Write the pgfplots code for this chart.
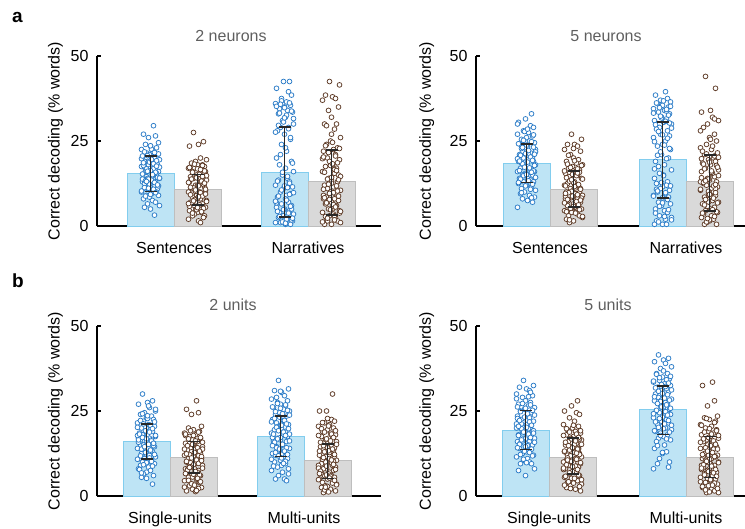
\documentclass[border=0pt]{standalone}
\usepackage{fontspec}
\setmainfont{Liberation Sans}
\usepackage{pgfplots}
\pgfplotsset{compat=1.18}
\definecolor{barblue}{RGB}{190,228,245}
\definecolor{edgeblue}{RGB}{130,205,238}
\definecolor{bargray}{RGB}{217,217,217}
\definecolor{edgegray}{RGB}{190,190,190}
\definecolor{mblue}{RGB}{45,125,200}
\definecolor{mbrown}{RGB}{95,60,40}
\definecolor{errc}{RGB}{40,40,40}
\definecolor{titlec}{RGB}{95,95,95}
\pgfplotsset{
  panel/.style={
    scale only axis, height=170pt, anchor=south west,
    ymin=0, ymax=50, ytick={0,25,50},
    axis x line*=bottom, axis y line*=left,
    axis line style={line width=1.2pt, black},
    tick align=inside, major tick length=4pt,
    ytick style={line width=1.2pt, black},
    xtick style={draw=none},
    tick label style={font=\fontsize{16}{19}\selectfont},
    /pgf/number format/assume math mode=true,
    yticklabel style={xshift=-5pt},
    xticklabel style={anchor=base, yshift=-27pt},
    ylabel={Correct decoding (\% words)},
    clip=false,
  },
  ovl/.style={scale only axis, height=170pt, anchor=south west, ymin=0, ymax=50, hide axis, clip=false},
  ylab/.style={every axis y label/.style={at={(axis description cs:#1,0.5)}, rotate=90, anchor=center, font=\fontsize{16}{19}\selectfont}},
  bluebar/.style={ybar, bar width=47, bar shift=0pt, fill=barblue, draw=edgeblue, line width=1pt},
  graybar/.style={ybar, bar width=47, bar shift=0pt, fill=bargray, draw=edgegray, line width=1pt},
  bluept/.style={only marks, mark=*, mark size=2.4pt, mark options={draw=mblue, fill=white, line width=0.75pt}},
  brownpt/.style={only marks, mark=*, mark size=2.4pt, mark options={draw=mbrown, fill=white, line width=0.75pt}},
  errs/.style={draw=errc, line width=1.6pt, mark=none, unbounded coords=jump, forget plot},
}
\begin{document}
\begin{tikzpicture}
\path[use as bounding box] (0,0) rectangle (745pt,-528pt);
\node[anchor=base west, inner sep=0, font=\fontsize{19}{22}\selectfont\bfseries] at (12pt,-22pt) {a};
\node[anchor=base west, inner sep=0, font=\fontsize{19}{22}\selectfont\bfseries] at (12pt,-287pt) {b};
\node[anchor=base, inner sep=0, titlec, font=\fontsize{16}{19}\selectfont] at (231pt,-41.5pt) {2 neurons};
\node[anchor=base, inner sep=0, titlec, font=\fontsize{16}{19}\selectfont] at (606pt,-41.5pt) {5 neurons};
\node[anchor=base, inner sep=0, titlec, font=\fontsize{16}{19}\selectfont] at (233pt,-310pt) {2 units};
\node[anchor=base, inner sep=0, titlec, font=\fontsize{16}{19}\selectfont] at (608pt,-310pt) {5 units};

% ---------------- a, 2 neurons
\begin{axis}[panel, at={(97pt,-226pt)}, width=284pt, xmin=-77, xmax=207,
  xtick={0,134}, xticklabels={Sentences,Narratives}, ylab=-0.146]
\addplot[bluebar] coordinates {(-23.5,15.4) (110.5,15.6)};
\addplot[graybar] coordinates {(23.5,10.6) (157.5,13.0)};
\addplot[bluept] table[x expr=\thisrow{j}-23.5, y=y, row sep=\\] {j y\\
3 29.5\\ -7 27\\ 5 26.5\\ -2 26\\ 8 24.5\\ -5 24\\ 0 23.5\\ 6 23\\ -9 22.5\\ 2 22\\
-4 21.5\\ 7 21\\ -1 21\\ 4 20.5\\ -8 20\\ 1 20\\ 9 19.5\\ -3 19\\ -6 19\\ 5 18.5\\
-2 18\\ 7 18\\ -9 17.5\\ 3 17\\ 0 17\\ -5 16.5\\ 8 16\\ -1 16\\ 6 15.5\\ -7 15\\
2 15\\ -4 14.5\\ 9 14\\ -3 14\\ 1 13.5\\ -8 13\\ 5 13\\ -6 12.5\\ 4 12\\ 0 12\\
-2 11.5\\ 7 11\\ -5 11\\ 3 10.5\\ -9 10\\ 6 10\\ 1 9.5\\ -4 9\\ 8 9\\ -1 8.5\\
-7 8\\ 2 7.5\\ 5 7\\ -3 6.5\\ 9 6\\ -6 5.5\\ 0 5\\ 4 3.2\\ -8 13.8\\ 3 16.8\\
1 22.6\\ -6 21.8\\ 8 21.2\\ -3 20.7\\ 4 20.2\\ -9 19.8\\ 6 19.2\\ -1 18.8\\ 3 18.3\\ -7 17.8\\
9 17.3\\ -4 16.8\\ 0 16.3\\ 5 15.8\\ -8 15.3\\ 2 14.8\\ 7 14.3\\ -2 13.8\\ -5 13.3\\ 4 12.8\\
-1 12.3\\ 8 11.8\\ -6 11.3\\ 3 10.8\\ -9 10.3\\ 5 9.8\\ 0 9.3\\ -3 16.1\\ 6 17.6\\ -7 18.6\\
2 15.1\\ 9 14.1\\ -4 13.1\\ 1 19.6\\ -8 20.6\\ 7 12.1\\ -2 11.1\\ 4 21.6\\ -5 8.8\\ 0 23.6\\
};
\addplot[brownpt] table[x expr=\thisrow{j}+23.5, y=y, row sep=\\] {j y\\
-4 27.5\\ 6 24.8\\ 1 24\\ -8 23.5\\ 3 20\\ 9 19.5\\ -2 19\\ -6 18.5\\ 5 18\\ 0 18\\
7 17.5\\ -3 17\\ -9 17\\ 2 16.5\\ 8 16\\ -5 16\\ 4 15.5\\ -1 15\\ 6 15\\ -7 14.5\\
1 14\\ -4 14\\ 9 13.5\\ -8 13\\ 3 13\\ 5 12.5\\ -2 12\\ 0 12\\ 7 11.5\\ -6 11\\
-3 11\\ 8 10.5\\ 2 10\\ -9 10\\ 4 9.5\\ -1 9\\ 6 9\\ -5 8.5\\ 0 8\\ 3 8\\
9 7.5\\ -7 7\\ -2 7\\ 5 6.5\\ 1 6\\ -4 6\\ 8 5.5\\ -6 5\\ 2 5\\ -8 4.5\\
4 4\\ 0 4\\ -3 3.5\\ 7 3\\ -5 3\\ 6 2.5\\ -9 2\\ 1 1.5\\ 3 1\\ -1 10.2\\
-3 18.2\\ 5 17.8\\ -8 17.2\\ 0 16.8\\ 7 16.2\\ -5 15.8\\ 2 15.2\\ 9 14.8\\ -1 14.2\\ -6 13.8\\
4 13.2\\ -9 12.8\\ 6 12.2\\ 1 11.8\\ -4 11.2\\ 8 10.8\\ -2 10.2\\ 3 9.8\\ -7 9.2\\ 5 8.8\\
0 8.2\\ -3 7.8\\ 9 7.2\\ -6 6.8\\ 2 6.2\\ -8 5.8\\ 6 5.2\\ -1 4.8\\ 4 4.2\\ -5 3.8\\
7 12.6\\ -2 10.6\\ 1 8.6\\ -9 6.6\\ 5 14.6\\ 3 16.6\\ -7 11.4\\ 8 9.4\\ -4 7.4\\ 0 5.4\\
};
\addplot[bluept] table[x expr=\thisrow{j}+110.5, y=y, row sep=\\] {j y\\
5 42.5\\ -1 42.5\\ -8 40.5\\ 4 39.5\\ 7 38.5\\ -3 37.5\\ 2 36.5\\ -9 36\\ 6 35.5\\ 0 35\\
-5 34.5\\ 3 34\\ 8 33.5\\ -6 33\\ 1 32\\ -2 31\\ 9 30\\ -4 29\\ 4 29\\ -7 28\\
0 27\\ 6 25.5\\ -3 24\\ 2 22\\ -8 20\\ 7 19\\ -5 18\\ 1 17\\ 9 16\\ -2 15\\
3 14\\ -6 13.5\\ 5 13\\ -9 12\\ 8 11.5\\ -1 11\\ -4 10\\ 6 9.5\\ 2 9\\ -7 8.5\\
1 8\\ 4 7\\ -3 6.5\\ 7 6\\ -8 5.5\\ 0 5\\ 5 4.5\\ -5 4\\ 9 3.5\\ -2 3\\
-6 2.5\\ 3 2\\ 8 1.5\\ -4 1\\ 1 0.5\\ 6 0.5\\ -9 1\\ 2 2\\ -1 3\\ 7 5\\
-3 36.8\\ 5 36.2\\ -8 35.2\\ 0 34.8\\ 7 33.8\\ -5 33.2\\ 2 32.6\\ 9 31.6\\ -1 30.6\\ -6 29.6\\
4 28.6\\ -9 27.6\\ 6 26\\ 1 23\\ -4 21\\ 8 18.5\\ -2 15.8\\ 3 14.6\\ -7 13.2\\ 5 12.6\\
0 11.8\\ -3 10.6\\ 9 9.8\\ -6 8.8\\ 2 7.6\\ -8 6.8\\ 6 5.8\\ -1 4.8\\ 4 3.8\\ -5 2.8\\
7 1.8\\ -2 1.2\\ 1 0.8\\ -9 7.3\\ 5 9.3\\ 3 11.3\\ -7 4.3\\ 8 2.3\\ -4 35.8\\ 0 31.8\\
};
\addplot[brownpt] table[x expr=\thisrow{j}+157.5, y=y, row sep=\\] {j y\\
-2 42.5\\ 8 41.5\\ -6 38.5\\ 1 38\\ 4 37.5\\ -9 37\\ 7 35\\ -3 34\\ 0 32\\ 5 30\\
-7 30\\ 3 28.5\\ 9 26\\ -1 25\\ -5 24\\ 6 23\\ 2 22.5\\ -8 22\\ 4 21\\ -4 20\\
8 19.5\\ -2 19\\ 1 18\\ -6 17.5\\ 5 17\\ -9 16\\ 3 15.5\\ 7 15\\ -3 14\\ 0 13.5\\
6 13\\ -7 12\\ 2 11.5\\ -4 11\\ 9 10.5\\ -1 10\\ 4 9.5\\ -8 9\\ -5 8.5\\ 3 8\\
7 7.5\\ 0 7\\ -6 6.5\\ 5 6\\ 1 5.5\\ -3 5\\ 8 4.5\\ -9 4\\ 2 3.5\\ -2 3\\
4 2.5\\ -5 2\\ 6 1.5\\ 9 1\\ -7 0.5\\ 0 0.5\\ -4 1.5\\ 3 3\\ 1 5\\ -8 8\\
1 24.6\\ -6 23.6\\ 8 22.8\\ -3 21.6\\ 4 20.6\\ -9 19.8\\ 6 18.6\\ -1 17.8\\ 3 16.6\\ -7 15.8\\
9 14.6\\ -4 13.8\\ 0 12.6\\ 5 11.8\\ -8 10.8\\ 2 9.8\\ 7 8.8\\ -2 7.8\\ -5 6.8\\ 4 5.8\\
-1 4.8\\ 8 3.8\\ -6 2.8\\ 3 1.8\\ -9 1.2\\ 5 16.3\\ 0 14.3\\ -3 12.3\\ 6 10.3\\ -7 8.3\\
2 6.3\\ 9 4.3\\ -4 2.3\\ 1 18.3\\ -8 20.3\\ 7 13.6\\ -2 9.6\\ 4 5.6\\ -5 29.5\\ 0 27\\
};
\end{axis}
\begin{axis}[ovl, at={(97pt,-226pt)}, width=284pt, xmin=-77, xmax=207]
\addplot[errs] table[row sep=\\] {x y\\
-29.5 20.6\\ -17.5 20.6\\ nan nan\\ -23.5 20.6\\ -23.5 10.1\\ nan nan\\ -29.5 10.1\\ -17.5 10.1\\ nan nan\\
17.5 15.2\\ 29.5 15.2\\ nan nan\\ 23.5 15.2\\ 23.5 6.2\\ nan nan\\ 17.5 6.2\\ 29.5 6.2\\ nan nan\\
104.5 29.1\\ 116.5 29.1\\ nan nan\\ 110.5 29.1\\ 110.5 2.6\\ nan nan\\ 104.5 2.6\\ 116.5 2.6\\ nan nan\\
151.5 22.4\\ 163.5 22.4\\ nan nan\\ 157.5 22.4\\ 157.5 3.2\\ nan nan\\ 151.5 3.2\\ 163.5 3.2\\
};
\end{axis}

% ---------------- a, 5 neurons
\begin{axis}[panel, at={(476pt,-226pt)}, width=269pt, xmin=-74, xmax=195,
  xtick={0,136}, xticklabels={Sentences,Narratives}, ylab=-0.183]
\addplot[bluebar] coordinates {(-23.5,18.3) (112.5,19.5)};
\addplot[graybar] coordinates {(23.5,10.7) (159.5,13.0)};
\addplot[bluept] table[x expr=\thisrow{j}-23.5, y=y, row sep=\\] {j y\\
5 33\\ -1 31.5\\ -8 30.5\\ 4 29.5\\ 7 29\\ -3 28\\ 2 27.5\\ -9 27\\ 6 26.5\\ 0 26\\
-5 25.5\\ 3 25\\ 8 24.5\\ -6 24\\ 1 23.5\\ -2 23\\ 9 22.5\\ -4 22\\ 4 21.5\\ -7 21\\
0 20.5\\ 6 20\\ -3 20\\ 2 19.5\\ -8 19\\ 7 19\\ -5 18.5\\ 1 18\\ 9 18\\ -2 17.5\\
3 17\\ -6 17\\ 5 16.5\\ -9 16\\ 8 16\\ -1 15.5\\ -4 15\\ 6 15\\ 2 14.5\\ -7 14\\
1 14\\ 4 13.5\\ -3 13\\ 7 13\\ -8 12.5\\ 0 12\\ 5 11.5\\ -5 11\\ 9 10.5\\ -2 10\\
-6 9.5\\ 3 9\\ 8 8.5\\ -4 8\\ 1 7.5\\ 6 7\\ -9 5.5\\ 2 21.2\\ -1 18.8\\ 7 16.2\\
-3 25.2\\ 5 24.8\\ -8 24.2\\ 0 23.8\\ 7 23.2\\ -5 22.8\\ 2 22.2\\ 9 21.8\\ -1 21.3\\ -6 20.8\\
4 20.3\\ -9 19.8\\ 6 19.3\\ 1 18.8\\ -4 18.3\\ 8 17.8\\ -2 17.3\\ 3 16.8\\ -7 16.3\\ 5 15.8\\
0 15.3\\ -3 14.8\\ 9 14.3\\ -6 13.8\\ 2 13.3\\ -8 12.8\\ 6 12.3\\ -1 11.8\\ 4 10.8\\ -5 9.8\\
7 26.8\\ -2 27.8\\ 1 28.5\\ -9 30\\ 5 8.3\\ 3 17.1\\ -7 19.1\\ 8 21.1\\ -4 23.1\\ 0 15.1\\
};
\addplot[brownpt] table[x expr=\thisrow{j}+23.5, y=y, row sep=\\] {j y\\
-2 27\\ 8 25.5\\ -6 24\\ 1 24\\ 4 23.5\\ -9 22.5\\ 7 22\\ -3 21\\ 0 20\\ 5 19.5\\
-7 19\\ 3 18.5\\ 9 18\\ -1 17.5\\ -5 17\\ 6 16.5\\ 2 16\\ -8 15.5\\ 4 15\\ -4 14.5\\
8 14\\ -2 13.5\\ 1 13\\ -6 12.5\\ 5 12\\ -9 12\\ 3 11.5\\ 7 11\\ -3 11\\ 0 10.5\\
6 10\\ -7 10\\ 2 9.5\\ -4 9\\ 9 9\\ -1 8.5\\ 4 8\\ -8 8\\ -5 7.5\\ 3 7\\
7 7\\ 0 6.5\\ -6 6\\ 5 6\\ 1 5.5\\ -3 5\\ 8 5\\ -9 4.5\\ 2 4\\ -2 4\\
4 3.5\\ -5 3\\ 6 3\\ 9 2.5\\ -7 2\\ 0 1.5\\ -4 1\\ 3 10.8\\ 1 12.3\\ -8 8.8\\
1 19.2\\ -6 18.2\\ 8 17.8\\ -3 17.2\\ 4 16.8\\ -9 16.2\\ 6 15.8\\ -1 15.2\\ 3 14.8\\ -7 14.2\\
9 13.8\\ -4 13.2\\ 0 12.8\\ 5 12.2\\ -8 11.8\\ 2 11.2\\ 7 10.8\\ -2 10.2\\ -5 9.8\\ 4 9.2\\
-1 8.8\\ 8 8.2\\ -6 7.8\\ 3 7.2\\ -9 6.8\\ 5 6.2\\ 0 5.8\\ -3 5.2\\ 6 4.8\\ -7 4.2\\
2 3.8\\ 9 2.8\\ -4 1.8\\ 1 11.6\\ -8 9.6\\ 7 7.6\\ -2 13.6\\ 4 15.6\\ -5 20.8\\ 0 22.8\\
};
\addplot[bluept] table[x expr=\thisrow{j}+112.5, y=y, row sep=\\] {j y\\
3 39.5\\ -7 38.5\\ 5 37.5\\ -2 37\\ 8 36.5\\ -5 36\\ 0 35.5\\ 6 35\\ -9 34.5\\ 2 34\\
-4 33.5\\ 7 33\\ -1 32\\ 4 31.5\\ -8 31\\ 1 30.5\\ 9 30\\ -3 29\\ -6 28.5\\ 5 28\\
-2 27\\ 7 26.5\\ -9 26\\ 3 25\\ 0 24\\ -5 23.5\\ 8 22.5\\ -1 21\\ 6 20\\ -7 19\\
2 18\\ -4 17.5\\ 9 16.5\\ -3 15.5\\ 1 15\\ -8 14\\ 5 13\\ -6 12.5\\ 4 12\\ 0 11.5\\
-2 11\\ 7 10.5\\ -5 10\\ 3 9.5\\ -9 9\\ 6 8.5\\ 1 8\\ -4 7\\ 8 6.5\\ -1 6\\
-7 5\\ 2 4.5\\ 5 4\\ -3 3\\ 9 2.5\\ -6 1.5\\ 0 0.5\\ 4 0.5\\ -8 0.5\\ 3 2\\
1 36.8\\ -6 36.2\\ 8 35.2\\ -3 34.8\\ 4 33.8\\ -9 33.2\\ 6 32.6\\ -1 31.8\\ 3 30.8\\ -7 29.8\\
9 28.8\\ -4 27.8\\ 0 26.8\\ 5 25.8\\ -8 24.8\\ 2 23.8\\ 7 22.8\\ -2 21.8\\ -5 20.8\\ 4 19.8\\
-1 12.8\\ 8 11.8\\ -6 10.8\\ 3 9.8\\ -9 8.8\\ 5 7.8\\ 0 6.8\\ -3 5.8\\ 6 4.8\\ -7 3.8\\
2 2.8\\ 9 1.8\\ -4 1.2\\ 1 14.8\\ -8 16.8\\ 7 30.3\\ -2 32.3\\ 4 34.3\\ -5 10.3\\ 0 8.3\\
};
\addplot[brownpt] table[x expr=\thisrow{j}+159.5, y=y, row sep=\\] {j y\\
-4 44\\ 6 40.5\\ 1 34\\ -8 33.5\\ 3 32\\ 9 31\\ -2 30\\ -6 29\\ 5 27\\ 0 26\\
7 25\\ -3 24\\ -9 23\\ 2 22.5\\ 8 21.5\\ -5 21\\ 4 20\\ -1 19.5\\ 6 19\\ -7 18.5\\
1 18\\ -4 17\\ 9 16.5\\ -8 16\\ 3 15\\ 5 14.5\\ -2 14\\ 0 13.5\\ 7 13\\ -6 12.5\\
-3 12\\ 8 11.5\\ 2 11\\ -9 10.5\\ 4 10\\ -1 9.5\\ 6 9\\ -5 8.5\\ 0 8\\ 3 7.5\\
9 7\\ -7 6.5\\ -2 6\\ 5 5.5\\ 1 5\\ -4 4.5\\ 8 4\\ -6 3.5\\ 2 3\\ -8 2.5\\
4 2\\ 0 1.5\\ -3 1\\ 7 0.5\\ -5 0.5\\ 6 11\\ -9 13\\ 1 9\\ 3 15.5\\ -1 7\\
-3 21.2\\ 5 20.6\\ -8 19.8\\ 0 18.8\\ 7 17.8\\ -5 16.8\\ 2 15.8\\ 9 14.8\\ -1 13.8\\ -6 12.8\\
4 11.8\\ -9 10.8\\ 6 9.8\\ 1 8.8\\ -4 7.8\\ 8 6.8\\ -2 5.8\\ 3 4.8\\ -7 3.8\\ 5 2.8\\
0 1.8\\ -3 1.2\\ 9 20.2\\ -6 18.2\\ 2 16.2\\ -8 14.2\\ 6 12.2\\ -1 10.2\\ 4 8.2\\ -5 6.2\\
7 4.2\\ -2 2.2\\ 1 25.5\\ -9 28\\ 5 31.5\\ 3 23.5\\ -7 22\\ 8 17.3\\ -4 13.3\\ 0 9.3\\
};
\end{axis}
\begin{axis}[ovl, at={(476pt,-226pt)}, width=269pt, xmin=-74, xmax=195]
\addplot[errs] table[row sep=\\] {x y\\
-29.5 24.1\\ -17.5 24.1\\ nan nan\\ -23.5 24.1\\ -23.5 12.8\\ nan nan\\ -29.5 12.8\\ -17.5 12.8\\ nan nan\\
17.5 16.2\\ 29.5 16.2\\ nan nan\\ 23.5 16.2\\ 23.5 5.6\\ nan nan\\ 17.5 5.6\\ 29.5 5.6\\ nan nan\\
106.5 30.6\\ 118.5 30.6\\ nan nan\\ 112.5 30.6\\ 112.5 8.3\\ nan nan\\ 106.5 8.3\\ 118.5 8.3\\ nan nan\\
153.5 20.8\\ 165.5 20.8\\ nan nan\\ 159.5 20.8\\ 159.5 4.5\\ nan nan\\ 153.5 4.5\\ 165.5 4.5\\
};
\end{axis}

% ---------------- b, 2 units
\begin{axis}[panel, at={(97pt,-496pt)}, width=284pt, xmin=-73, xmax=211,
  xtick={0,134}, xticklabels={Single-units,Multi-units}, ylab=-0.146]
\addplot[bluebar] coordinates {(-23.5,16.1) (110.5,17.6)};
\addplot[graybar] coordinates {(23.5,11.3) (157.5,10.3)};
\addplot[bluept] table[x expr=\thisrow{j}-23.5, y=y, row sep=\\] {j y\\
-4 30\\ 6 28\\ 1 27.5\\ -8 27\\ 3 26\\ 9 25\\ -2 24.5\\ -6 24\\ 5 23.5\\ 0 23\\
7 22.5\\ -3 22\\ -9 21.5\\ 2 21\\ 8 20.5\\ -5 20\\ 4 19.5\\ -1 19\\ 6 19\\ -7 18.5\\
1 18\\ -4 18\\ 9 17.5\\ -8 17\\ 3 17\\ 5 16.5\\ -2 16\\ 0 16\\ 7 15.5\\ -6 15\\
-3 15\\ 8 14.5\\ 2 14\\ -9 14\\ 4 13.5\\ -1 13\\ 6 13\\ -5 12.5\\ 0 12\\ 3 12\\
9 11.5\\ -7 11\\ -2 11\\ 5 10.5\\ 1 10\\ -4 10\\ 8 9.5\\ -6 9\\ 2 8.5\\ -8 8\\
4 7.5\\ 0 7\\ -3 6.5\\ 7 6\\ -5 5.5\\ 6 3.5\\ -9 17.8\\ 1 15.2\\ 3 20.8\\ -1 12.8\\
1 22.8\\ -6 22.2\\ 8 21.8\\ -3 21.2\\ 4 20.8\\ -9 20.2\\ 6 19.8\\ -1 19.2\\ 3 18.8\\ -7 18.2\\
9 17.8\\ -4 17.2\\ 0 16.8\\ 5 16.2\\ -8 15.8\\ 2 15.2\\ 7 14.8\\ -2 14.2\\ -5 13.8\\ 4 13.2\\
-1 12.8\\ 8 12.2\\ -6 11.8\\ 3 11.2\\ -9 10.8\\ 5 10.2\\ 0 9.8\\ -3 9.2\\ 6 8.8\\ -7 7.8\\
2 26.5\\ 9 25.5\\ -4 24.2\\ 1 23.6\\ -8 16.5\\ 7 15.5\\ -2 14.5\\ 4 13.5\\ -5 6.8\\ 0 5.2\\
};
\addplot[brownpt] table[x expr=\thisrow{j}+23.5, y=y, row sep=\\] {j y\\
3 28\\ -7 25.5\\ 5 24.5\\ -2 24\\ 8 20.5\\ -5 20\\ 0 19.5\\ 6 19\\ -9 18.5\\ 2 18\\
-4 17.5\\ 7 17\\ -1 16.5\\ 4 16\\ -8 15.5\\ 1 15\\ 9 14.5\\ -3 14\\ -6 13.5\\ 5 13\\
-2 13\\ 7 12.5\\ -9 12\\ 3 12\\ 0 11.5\\ -5 11\\ 8 11\\ -1 10.5\\ 6 10\\ -7 10\\
2 9.5\\ -4 9\\ 9 9\\ -3 8.5\\ 1 8\\ -8 8\\ 5 7.5\\ -6 7\\ 4 7\\ 0 6.5\\
-2 6\\ 7 6\\ -5 5.5\\ 3 5\\ -9 4.5\\ 6 4\\ 1 3.5\\ -4 3\\ 8 2.5\\ -1 2\\
-7 1.5\\ 2 1.3\\ 5 11.8\\ -3 9.8\\ 9 13.8\\ -6 7.8\\ 0 15.2\\ 4 5.2\\ -8 17.8\\ 3 10.8\\
-3 19.2\\ 5 18.8\\ -8 18.2\\ 0 17.8\\ 7 17.2\\ -5 16.8\\ 2 16.2\\ 9 15.8\\ -1 15.2\\ -6 14.8\\
4 14.2\\ -9 13.8\\ 6 13.2\\ 1 12.8\\ -4 12.2\\ 8 11.6\\ -2 11.2\\ 3 10.6\\ -7 10.2\\ 5 9.6\\
0 9.2\\ -3 8.6\\ 9 8.2\\ -6 7.6\\ 2 7.2\\ -8 6.6\\ 6 6.2\\ -1 5.6\\ 4 5.2\\ -5 4.6\\
7 4.2\\ -2 3.6\\ 1 3.2\\ -9 2.6\\ 5 2.2\\ 3 1.6\\ -7 12.4\\ 8 10.4\\ -4 8.4\\ 0 6.4\\
};
\addplot[bluept] table[x expr=\thisrow{j}+110.5, y=y, row sep=\\] {j y\\
-2 34\\ 8 31.5\\ -6 31\\ 1 30.5\\ 4 29.5\\ -9 28.5\\ 7 28\\ -3 27.5\\ 0 27\\ 5 26.5\\
-7 26\\ 3 25.5\\ 9 25\\ -1 24.5\\ -5 24\\ 6 23.5\\ 2 23\\ -8 22.5\\ 4 22\\ -4 21.5\\
8 21\\ -2 20.5\\ 1 20\\ -6 19.5\\ 5 19\\ -9 18.5\\ 3 18\\ 7 17.5\\ -3 17\\ 0 16.5\\
6 16\\ -7 15.5\\ 2 15\\ -4 14.5\\ 9 14\\ -1 13.5\\ 4 13\\ -8 12.5\\ -5 12\\ 3 11.5\\
7 11\\ 0 10.5\\ -6 10\\ 5 9.5\\ 1 9\\ -3 8.5\\ 8 8\\ -9 7.5\\ 2 7\\ -2 6\\
4 5\\ -5 5\\ 6 4.5\\ 9 18.2\\ -7 16.2\\ 0 20.8\\ -4 14.2\\ 3 22.2\\ 1 12.2\\ -8 17.2\\
-3 27.2\\ 5 26.8\\ -8 26.2\\ 0 25.8\\ 7 25.2\\ -5 24.8\\ 2 24.2\\ 9 23.8\\ -1 23.2\\ -6 22.8\\
4 22.2\\ -9 21.8\\ 6 21.2\\ 1 20.8\\ -4 20.2\\ 8 19.8\\ -2 19.2\\ 3 18.8\\ -7 18.2\\ 5 17.8\\
0 17.2\\ -3 16.8\\ 9 16.2\\ -6 15.8\\ 2 15.2\\ -8 14.8\\ 6 14.2\\ -1 13.8\\ 4 13.2\\ -5 12.8\\
7 12.2\\ -2 11.8\\ 1 11.2\\ -9 10.8\\ 5 10.2\\ 3 9.6\\ -7 8.8\\ 8 6.5\\ -4 29\\ 0 30.8\\
};
\addplot[brownpt] table[x expr=\thisrow{j}+157.5, y=y, row sep=\\] {j y\\
5 30\\ -1 25\\ -8 25\\ 4 22.5\\ 7 22\\ -3 21.5\\ 2 21\\ -9 20.5\\ 6 20\\ 0 19.5\\
-5 19\\ 3 18.5\\ 8 18\\ -6 17.5\\ 1 17\\ -2 16.5\\ 9 16\\ -4 15.5\\ 4 15\\ -7 14.5\\
0 14\\ 6 13.5\\ -3 13\\ 2 12.5\\ -8 12\\ 7 11.5\\ -5 11\\ 1 11\\ 9 10.5\\ -2 10\\
3 10\\ -6 9.5\\ 5 9\\ -9 9\\ 8 8.5\\ -1 8\\ -4 8\\ 6 7.5\\ 2 7\\ -7 7\\
1 6.5\\ 4 6\\ -3 6\\ 7 5.5\\ -8 5\\ 0 5\\ 5 4.5\\ -5 4\\ 9 3.5\\ -2 3\\
-6 2.5\\ 3 2\\ 8 1.5\\ -4 1\\ 1 1.2\\ 6 10.2\\ -9 8.2\\ 2 12.2\\ -1 6.2\\ 7 14.2\\
1 20.6\\ -6 19.8\\ 8 19.2\\ -3 18.8\\ 4 18.2\\ -9 17.8\\ 6 17.2\\ -1 16.8\\ 3 16.2\\ -7 15.8\\
9 15.2\\ -4 14.8\\ 0 14.2\\ 5 13.8\\ -8 13.2\\ 2 12.8\\ 7 12.2\\ -2 11.6\\ -5 10.8\\ 4 9.8\\
-1 8.8\\ 8 7.8\\ -6 6.8\\ 3 5.8\\ -9 4.8\\ 5 3.8\\ 0 2.8\\ -3 1.8\\ 6 9.3\\ -7 7.3\\
2 5.3\\ 9 3.3\\ -4 11.3\\ 1 13.3\\ -8 6.6\\ 7 4.6\\ -2 2.6\\ 4 10.6\\ -5 21.6\\ 0 22.8\\
};
\end{axis}
\begin{axis}[ovl, at={(97pt,-496pt)}, width=284pt, xmin=-73, xmax=211]
\addplot[errs] table[row sep=\\] {x y\\
-29.5 21.2\\ -17.5 21.2\\ nan nan\\ -23.5 21.2\\ -23.5 10.8\\ nan nan\\ -29.5 10.8\\ -17.5 10.8\\ nan nan\\
17.5 16.0\\ 29.5 16.0\\ nan nan\\ 23.5 16.0\\ 23.5 6.7\\ nan nan\\ 17.5 6.7\\ 29.5 6.7\\ nan nan\\
104.5 23.6\\ 116.5 23.6\\ nan nan\\ 110.5 23.6\\ 110.5 11.6\\ nan nan\\ 104.5 11.6\\ 116.5 11.6\\ nan nan\\
151.5 15.3\\ 163.5 15.3\\ nan nan\\ 157.5 15.3\\ 157.5 5.2\\ nan nan\\ 151.5 5.2\\ 163.5 5.2\\
};
\end{axis}

% ---------------- b, 5 units
\begin{axis}[panel, at={(476pt,-496pt)}, width=269pt, xmin=-73, xmax=196,
  xtick={0,137}, xticklabels={Single-units,Multi-units}, ylab=-0.183]
\addplot[bluebar] coordinates {(-23.5,19.4) (113.5,25.5)};
\addplot[graybar] coordinates {(23.5,11.3) (160.5,11.4)};
\addplot[bluept] table[x expr=\thisrow{j}-23.5, y=y, row sep=\\] {j y\\
-2 34\\ 8 32.5\\ -6 32\\ 1 31.5\\ 4 31\\ -9 30\\ 7 29.5\\ -3 29\\ 0 28\\ 5 27.5\\
-7 27\\ 3 26.5\\ 9 26\\ -1 25.5\\ -5 25\\ 6 24.5\\ 2 24\\ -8 23.5\\ 4 23\\ -4 22.5\\
8 22\\ -2 21.5\\ 1 21\\ -6 20.5\\ 5 20\\ -9 20\\ 3 19.5\\ 7 19\\ -3 19\\ 0 18.5\\
6 18\\ -7 18\\ 2 17.5\\ -4 17\\ 9 17\\ -1 16.5\\ 4 16\\ -8 16\\ -5 15.5\\ 3 15\\
7 15\\ 0 14.5\\ -6 14\\ 5 13.5\\ 1 13\\ -3 12.5\\ 8 12\\ -9 11.5\\ 2 11\\ -2 10.5\\
4 10\\ -5 9.5\\ 6 9.5\\ 9 8\\ -7 7.5\\ 0 6\\ -4 21.2\\ 3 19.8\\ 1 17.8\\ -8 22.8\\
-3 27.2\\ 5 26.8\\ -8 26.2\\ 0 25.8\\ 7 25.2\\ -5 24.8\\ 2 24.2\\ 9 23.8\\ -1 23.2\\ -6 22.2\\
4 21.8\\ -9 21.2\\ 6 20.8\\ 1 20.2\\ -4 19.8\\ 8 19.2\\ -2 18.8\\ 3 18.2\\ -7 17.8\\ 5 17.2\\
0 16.8\\ -3 16.2\\ 9 15.8\\ -6 15.2\\ 2 14.8\\ -8 14.2\\ 6 13.8\\ -1 13.2\\ 4 12.8\\ -5 12.2\\
7 11.8\\ -2 10.8\\ 1 9.8\\ -9 28.6\\ 5 30.5\\ 3 29.2\\ -7 20.5\\ 8 18.5\\ -4 16.5\\ 0 14.5\\
};
\addplot[brownpt] table[x expr=\thisrow{j}+23.5, y=y, row sep=\\] {j y\\
5 28\\ -1 26.5\\ -8 25\\ 4 24.5\\ 7 24\\ -3 23\\ 2 22\\ -9 21\\ 6 20.5\\ 0 20\\
-5 19.5\\ 3 19\\ 8 18.5\\ -6 18\\ 1 17.5\\ -2 17\\ 9 16.5\\ -4 16\\ 4 15.5\\ -7 15\\
0 14.5\\ 6 14\\ -3 13.5\\ 2 13\\ -8 13\\ 7 12.5\\ -5 12\\ 1 12\\ 9 11.5\\ -2 11\\
3 11\\ -6 10.5\\ 5 10\\ -9 10\\ 8 9.5\\ -1 9\\ -4 9\\ 6 8.5\\ 2 8\\ -7 8\\
1 7.5\\ 4 7\\ -3 6.5\\ 7 6\\ -8 5.5\\ 0 5\\ 5 4.5\\ -5 4\\ 9 3.5\\ -2 3\\
-6 2.5\\ 3 2\\ 8 1.5\\ -4 11.2\\ 1 9.8\\ 6 13.8\\ -9 7.8\\ 2 15.2\\ -1 5.2\\ 7 16.8\\
1 20.8\\ -6 19.8\\ 8 19.2\\ -3 18.8\\ 4 18.2\\ -9 17.8\\ 6 17.2\\ -1 16.8\\ 3 16.2\\ -7 15.8\\
9 15.2\\ -4 14.8\\ 0 14.2\\ 5 13.8\\ -8 13.2\\ 2 12.8\\ 7 12.2\\ -2 11.8\\ -5 11.2\\ 4 10.8\\
-1 10.2\\ 8 9.8\\ -6 9.2\\ 3 8.8\\ -9 8.2\\ 5 7.8\\ 0 7.2\\ -3 6.8\\ 6 6.2\\ -7 5.8\\
2 5.2\\ 9 4.8\\ -4 4.2\\ 1 3.8\\ -8 3.2\\ 7 2.8\\ -2 2.2\\ 4 12.6\\ -5 10.6\\ 0 8.6\\
};
\addplot[bluept] table[x expr=\thisrow{j}+113.5, y=y, row sep=\\] {j y\\
-4 41.5\\ 6 40.5\\ 1 40\\ -8 39.5\\ 3 39\\ 9 38\\ -2 37.5\\ -6 36\\ 5 36\\ 0 35\\
7 34.5\\ -3 34\\ -9 33.5\\ 2 33\\ 8 32.5\\ -5 32\\ 4 31.5\\ -1 31\\ 6 30.5\\ -7 30\\
1 29.5\\ -4 29\\ 9 28.5\\ -8 28\\ 3 27.5\\ 5 27\\ -2 26.5\\ 0 26\\ 7 25.5\\ -6 25\\
-3 24.5\\ 8 24\\ 2 23.5\\ -9 23\\ 4 22.5\\ -1 22\\ 6 21.5\\ -5 21\\ 0 20.5\\ 3 20\\
9 19.5\\ -7 19\\ -2 18.5\\ 5 18\\ 1 17.5\\ -4 17\\ 8 16.5\\ -6 16\\ 2 15\\ -8 14\\
4 13\\ 0 12.5\\ -3 11\\ 7 10\\ -5 9.5\\ 6 8.5\\ -9 8\\ 1 26.2\\ 3 24.8\\ -1 28.2\\
1 36.8\\ -6 35.8\\ 8 35.2\\ -3 34.8\\ 4 34.2\\ -9 33.8\\ 6 33.2\\ -1 32.8\\ 3 32.2\\ -7 31.8\\
9 31.2\\ -4 30.8\\ 0 30.2\\ 5 29.8\\ -8 29.2\\ 2 28.8\\ 7 28.2\\ -2 27.8\\ -5 27.2\\ 4 26.8\\
-1 26.2\\ 8 25.8\\ -6 25.2\\ 3 24.8\\ -9 24.2\\ 5 23.8\\ 0 23.2\\ -3 22.8\\ 6 22.2\\ -7 21.8\\
2 21.2\\ 9 20.8\\ -4 20.2\\ 1 19.8\\ -8 19.2\\ 7 18.8\\ -2 17.8\\ 4 16.8\\ -5 14.8\\ 0 12.8\\
};
\addplot[brownpt] table[x expr=\thisrow{j}+160.5, y=y, row sep=\\] {j y\\
3 33.5\\ -7 32.5\\ 5 28\\ -2 26.5\\ 8 23.5\\ -5 23\\ 0 22.5\\ 6 22\\ -9 21\\ 2 20.5\\
-4 20\\ 7 19.5\\ -1 19\\ 4 18.5\\ -8 18\\ 1 17.5\\ 9 17\\ -3 16.5\\ -6 16\\ 5 15.5\\
-2 15\\ 7 14.5\\ -9 14\\ 3 13.5\\ 0 13\\ -5 12.5\\ 8 12\\ -1 12\\ 6 11.5\\ -7 11\\
2 11\\ -4 10.5\\ 9 10\\ -3 10\\ 1 9.5\\ -8 9\\ 5 9\\ -6 8.5\\ 4 8\\ 0 8\\
-2 7.5\\ 7 7\\ -5 6.5\\ 3 6\\ -9 5.5\\ 6 5\\ 1 4.5\\ -4 4\\ 8 3.5\\ -1 3\\
-7 2.5\\ 2 2\\ 5 1.5\\ -3 1\\ 9 1\\ -6 11.8\\ 0 9.8\\ 4 13.8\\ -8 7.8\\ 3 15.8\\
-3 22.8\\ 5 21.6\\ -8 20.8\\ 0 19.8\\ 7 19.2\\ -5 18.8\\ 2 18.2\\ 9 17.8\\ -1 17.2\\ -6 16.8\\
4 16.2\\ -9 15.8\\ 6 15.2\\ 1 14.8\\ -4 14.2\\ 8 13.8\\ -2 13.2\\ 3 12.8\\ -7 12.2\\ 5 11.6\\
0 10.8\\ -3 10.2\\ 9 9.8\\ -6 9.2\\ 2 8.8\\ -8 8.2\\ 6 7.8\\ -1 7.2\\ 4 6.8\\ -5 6.2\\
7 5.8\\ -2 5.2\\ 1 4.8\\ -9 4.2\\ 5 3.8\\ 3 3.2\\ -7 2.8\\ 8 2.2\\ -4 1.8\\ 0 1.2\\
};
\end{axis}
\begin{axis}[ovl, at={(476pt,-496pt)}, width=269pt, xmin=-73, xmax=196]
\addplot[errs] table[row sep=\\] {x y\\
-29.5 25.1\\ -17.5 25.1\\ nan nan\\ -23.5 25.1\\ -23.5 13.7\\ nan nan\\ -29.5 13.7\\ -17.5 13.7\\ nan nan\\
17.5 17.1\\ 29.5 17.1\\ nan nan\\ 23.5 17.1\\ 23.5 6.4\\ nan nan\\ 17.5 6.4\\ 29.5 6.4\\ nan nan\\
107.5 32.4\\ 119.5 32.4\\ nan nan\\ 113.5 32.4\\ 113.5 18.1\\ nan nan\\ 107.5 18.1\\ 119.5 18.1\\ nan nan\\
154.5 17.5\\ 166.5 17.5\\ nan nan\\ 160.5 17.5\\ 160.5 5.5\\ nan nan\\ 154.5 5.5\\ 166.5 5.5\\
};
\end{axis}
\end{tikzpicture}
\end{document}
